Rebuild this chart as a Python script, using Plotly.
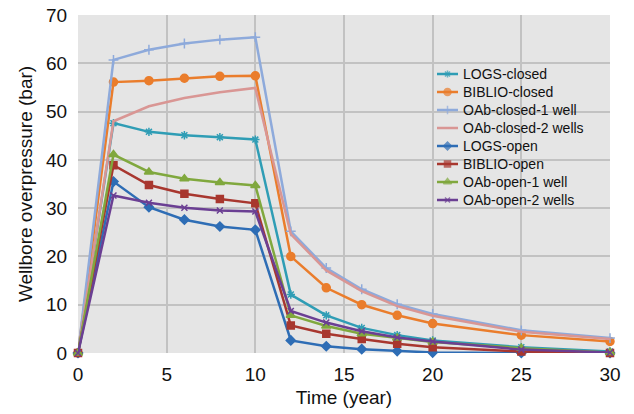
import plotly.graph_objects as go

time = [0, 2, 4, 6, 8, 10, 12, 14, 16, 18, 20, 25, 30]

logs_closed = [0, 47.6, 45.8, 45.1, 44.7, 44.2, 12.1, 7.8, 5.2, 3.7, 2.6, 1.2, 0.3]
biblio_closed = [0, 56.1, 56.4, 56.9, 57.3, 57.4, 20.0, 13.5, 10.0, 7.8, 6.1, 3.7, 2.4]
oab_closed_1 = [0, 60.7, 62.8, 64.1, 64.9, 65.4, 25.2, 17.6, 13.2, 10.1, 8.1, 4.7, 3.1]
oab_closed_2 = [0, 48.0, 51.1, 52.8, 54.0, 54.9, 24.6, 17.1, 12.8, 9.7, 7.7, 4.4, 2.9]
logs_open = [0, 35.5, 30.2, 27.6, 26.2, 25.5, 2.6, 1.4, 0.8, 0.4, 0.1, 0, 0]
biblio_open = [0, 38.9, 34.8, 33.0, 31.9, 31.0, 5.7, 4.0, 2.9, 1.9, 1.2, 0.3, 0]
oab_open_1 = [0, 41.1, 37.5, 36.1, 35.3, 34.7, 7.8, 5.6, 4.0, 3.1, 2.3, 1.0, 0.1]
oab_open_2 = [0, 32.6, 31.1, 30.1, 29.5, 29.3, 8.7, 6.3, 4.5, 3.2, 2.4, 0.7, 0.1]

series = [
    ("LOGS-closed", logs_closed, "#2f9db5", "asterisk-open", 7),
    ("BIBLIO-closed", biblio_closed, "#ea7d2c", "circle", 8),
    ("OAb-closed-1 well", oab_closed_1, "#8eaadb", "cross-thin-open", 7),
    ("OAb-closed-2 wells", oab_closed_2, "#d99694", "line-ew", 1),
    ("LOGS-open", logs_open, "#2e6db5", "diamond", 7),
    ("BIBLIO-open", biblio_open, "#a8372f", "square", 7),
    ("OAb-open-1 well", oab_open_1, "#80a83e", "triangle-up", 8),
    ("OAb-open-2 wells", oab_open_2, "#6b3f93", "x-thin-open", 6),
]

# layout geometry (pixels of a 634x414 canvas)
W, H = 634, 414
ML, MR, MT, MB = 78, 24, 15, 61
PW, PH = W - ML - MR, H - MT - MB

def px_to_paper_x(px):
    return (px - ML) / PW

def px_to_paper_y(py):
    return (H - MB - py) / PH

LEG_X0, LEG_X1, LEG_TX = 437, 458, 461
LEG_Y0, LEG_DY = 74, 18

fig = go.Figure()
for name, ys, color, sym, size in series:
    fig.add_trace(go.Scatter(
        x=time, y=ys, name=name, mode="lines+markers",
        line=dict(color=color, width=2.5),
        marker=dict(symbol=sym, size=size, color=color,
                    line=dict(color=color, width=1.5)),
        showlegend=False, cliponaxis=False,
    ))

# custom legend drawn on an overlay axis spanning the plot area (0..1)
annotations = []
for i, (name, ys, color, sym, size) in enumerate(series):
    yp = px_to_paper_y(LEG_Y0 + i * LEG_DY)
    x0, x1 = px_to_paper_x(LEG_X0), px_to_paper_x(LEG_X1)
    fig.add_trace(go.Scatter(
        x=[x0, (x0 + x1) / 2, x1], y=[yp, yp, yp],
        xaxis="x2", yaxis="y2", mode="lines+markers",
        line=dict(color=color, width=2.5),
        marker=dict(symbol=sym, size=[0, max(size - 1, 1), 0], color=color,
                    line=dict(color=color, width=1.5)),
        showlegend=False, hoverinfo="skip",
    ))
    annotations.append(dict(
        x=px_to_paper_x(LEG_TX), y=yp, xref="paper", yref="paper",
        text=name, showarrow=False, xanchor="left", yanchor="middle",
        font=dict(size=14, color="#111111"),
    ))

fig.update_layout(
    width=W, height=H,
    margin=dict(l=ML, r=MR, t=MT, b=MB),
    paper_bgcolor="white",
    plot_bgcolor="#e5e5e5",
    font=dict(family="Liberation Sans, Arial, sans-serif", color="#111111", size=17),
    showlegend=False,
    annotations=annotations,
    xaxis=dict(
        title=dict(text="Time (year)", font=dict(size=19), standoff=6),
        range=[0, 30], tickvals=[0, 5, 10, 15, 20, 25, 30],
        showgrid=True, gridcolor="#c2c2c2", gridwidth=1.5,
        zeroline=False, ticks="outside", ticklen=4, tickcolor="rgba(0,0,0,0)",
        showline=False, tickfont=dict(size=19), automargin=False,
    ),
    yaxis=dict(
        title=dict(text="Wellbore overpressure (bar)", font=dict(size=19), standoff=8),
        range=[0, 70], tickvals=[0, 10, 20, 30, 40, 50, 60, 70],
        showgrid=True, gridcolor="#c2c2c2", gridwidth=1.5,
        zeroline=False, ticks="outside", ticklen=6, tickcolor="rgba(0,0,0,0)",
        showline=False, tickfont=dict(size=19), automargin=False,
    ),
    xaxis2=dict(overlaying="x", range=[0, 1], visible=False, fixedrange=True),
    yaxis2=dict(overlaying="y", range=[0, 1], visible=False, fixedrange=True),
)

fig.write_html("out.html")
